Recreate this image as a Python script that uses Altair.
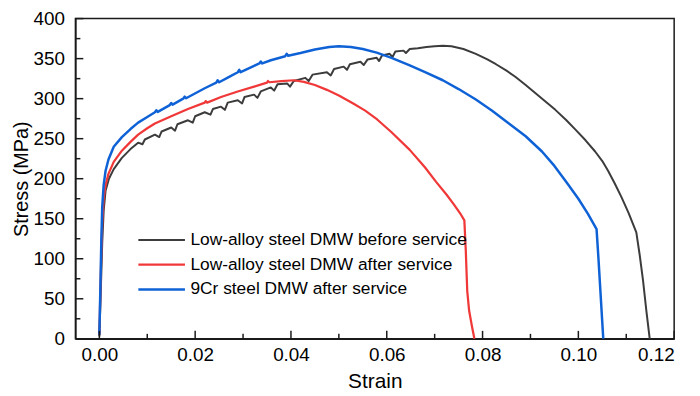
import altair as alt
import pandas as pd

series_names = [
    "Low-alloy steel DMW before service",
    "Low-alloy steel DMW after service",
    "9Cr steel DMW after service",
]
series_colors = ["#3c3c3c", "#f03838", "#0f62d6"]
series_widths = [2.0, 2.5, 2.5]

black_strain = [0.0000, 0.0003, 0.0006, 0.0009, 0.0013, 0.0020, 0.0030, 0.0047, 0.0065, 0.0081,
                0.0090, 0.0095, 0.0116, 0.0125, 0.0130, 0.0150, 0.0158, 0.0163, 0.0185, 0.0195,
                0.0200, 0.0220, 0.0232, 0.0237, 0.0254, 0.0262, 0.0268, 0.0289, 0.0298, 0.0303,
                0.0323, 0.0330, 0.0337, 0.0358, 0.0365, 0.0372, 0.0392, 0.0398, 0.0406, 0.0430,
                0.0437, 0.0445, 0.0475, 0.0483, 0.0490, 0.0510, 0.0517, 0.0523, 0.0545, 0.0552,
                0.0560, 0.0579, 0.0584, 0.0590, 0.0606, 0.0612, 0.0618, 0.0635, 0.0640, 0.0648,
                0.0665, 0.0683, 0.0700, 0.0717, 0.0735, 0.0760, 0.0786, 0.0810, 0.0828, 0.0850,
                0.0869, 0.0890, 0.0910, 0.0930, 0.0952, 0.0975, 0.0993, 0.1015, 0.1035, 0.1050,
                0.1062, 0.1076, 0.1090, 0.1105, 0.1121, 0.1128, 0.1135, 0.1142, 0.1149]
black_stress = [3, 60, 120, 160, 185, 200, 212, 226, 237, 245,
                243, 249, 255, 252, 259, 264, 260, 268, 273, 270,
                278, 283, 280, 287, 290, 286, 295, 298, 294, 302,
                305, 301, 309, 314, 310, 318, 319, 315, 322, 326,
                322, 330, 333, 329, 337, 340, 336, 343, 346, 342,
                349, 351, 347, 354, 356, 352, 359, 360, 357, 362,
                363, 364.5, 365.5, 366, 365.5, 362, 356, 349, 343, 335,
                327, 317, 307, 297, 286, 273, 262, 248, 234, 222,
                210, 194, 177, 157, 133, 105, 73, 35, 0]

red_strain = [0.0000, 0.0002, 0.0004, 0.0006, 0.0009, 0.0013, 0.0019, 0.0030, 0.0047, 0.0065,
              0.0081, 0.0100, 0.0116, 0.0150, 0.0185, 0.0220, 0.0222, 0.0225, 0.0254, 0.0289,
              0.0323, 0.0350, 0.0352, 0.0355, 0.0380, 0.0406, 0.0427, 0.0450, 0.0475, 0.0500,
              0.0530, 0.0555, 0.0580, 0.0610, 0.0648, 0.0680, 0.0703, 0.0725, 0.0740, 0.0755,
              0.0762, 0.0765, 0.0768, 0.0772, 0.0778, 0.0783]
red_stress = [5, 55, 105, 145, 175, 192, 206, 221, 235, 246,
              255, 263, 269, 278, 287, 295, 297, 295, 302, 309,
              315, 320, 322, 320.5, 322, 323, 321, 317, 311, 304,
              294, 285, 274, 258, 236, 214, 196, 180, 168, 155,
              148, 110, 60, 35, 15, 0]

blue_strain = [0.0000, 0.0002, 0.0004, 0.0006, 0.0009, 0.0013, 0.0019, 0.0030, 0.0047, 0.0065,
               0.0081, 0.0100, 0.0116, 0.0119, 0.0122, 0.0147, 0.0150, 0.0153, 0.0175, 0.0178,
               0.0181, 0.0220, 0.0244, 0.0247, 0.0250, 0.0270, 0.0289, 0.0292, 0.0295, 0.0323,
               0.0334, 0.0337, 0.0340, 0.0358, 0.0388, 0.0391, 0.0394, 0.0420, 0.0450, 0.0480,
               0.0500, 0.0525, 0.0550, 0.0579, 0.0610, 0.0648, 0.0680, 0.0717, 0.0750, 0.0786,
               0.0820, 0.0855, 0.0890, 0.0924, 0.0950, 0.0976, 0.1000, 0.1020, 0.1038, 0.1042,
               0.1046, 0.1050, 0.1052]
blue_stress = [5, 60, 120, 165, 192, 210, 224, 240, 252, 262,
               270, 277, 283, 285.5, 283.5, 292, 294.5, 292.5, 300, 302.5,
               300.5, 313, 320, 323, 320.5, 327, 333, 336, 333, 341,
               344, 346.5, 344, 348, 353, 356, 353.5, 357, 361.5, 364.5,
               365.5, 364.5, 362, 357.5, 351, 341.5, 333, 323, 312, 299,
               285, 269, 253, 234, 216, 195, 175, 156, 137, 100,
               60, 20, 0]

x_ticks = [0.00, 0.02, 0.04, 0.06, 0.08, 0.10, 0.12]
x_minor = [0.01, 0.03, 0.05, 0.07, 0.09, 0.11]
y_ticks = [0, 50, 100, 150, 200, 250, 300, 350, 400]
y_minor = [25, 75, 125, 175, 225, 275, 325, 375]

rows = []
for name, xs, ys in zip(series_names,
                        [black_strain, red_strain, blue_strain],
                        [black_stress, red_stress, blue_stress]):
    for i, (xv, yv) in enumerate(zip(xs, ys)):
        rows.append({"series": name, "strain": xv, "stress": yv, "idx": i})
df = pd.DataFrame(rows)

W, H = 604, 323
FONT = "Liberation Sans"
xscale = alt.Scale(domain=[-0.005, 0.12], nice=False, zero=False)
yscale = alt.Scale(domain=[0, 400], nice=False)

x_axis = alt.Axis(values=x_ticks, format=".2f", title="Strain", ticks=False,
                  grid=False, labelPadding=7, titleY=43, titleFontSize=21,
                  titleBaseline="middle")
y_axis = alt.Axis(values=y_ticks, title="Stress (MPa)", ticks=False, grid=False,
                  labelPadding=11, titleX=-54, titleY=H / 2, titleFontSize=20,
                  titleBaseline="middle", titleAngle=-90, titleAlign="center")

lines = alt.Chart(df).mark_line(strokeJoin="round").encode(
    x=alt.X("strain:Q", scale=xscale, axis=x_axis),
    y=alt.Y("stress:Q", scale=yscale, axis=y_axis),
    color=alt.Color("series:N", sort=series_names,
                    scale=alt.Scale(domain=series_names, range=series_colors),
                    legend=alt.Legend(orient="none", legendX=62, legendY=211, title=None,
                                      symbolType="stroke", symbolSize=2209,
                                      symbolStrokeWidth=2.5, labelFontSize=17.5,
                                      labelFont=FONT, labelColor="black", labelOffset=4,
                                      clipHeight=24.5, rowPadding=0, padding=0,
                                      labelLimit=600)),
    strokeWidth=alt.StrokeWidth("series:N",
                                scale=alt.Scale(domain=series_names, range=series_widths),
                                legend=None),
    detail="series:N",
    order="idx:Q",
)

xt = pd.DataFrame({"strain": x_ticks})
xm = pd.DataFrame({"strain": x_minor})
yt = pd.DataFrame({"stress": y_ticks})
ym = pd.DataFrame({"stress": y_minor})

tick_color = "#1a1a1a"
xmaj = alt.Chart(xt).mark_rule(color=tick_color, strokeWidth=1.5).encode(
    x=alt.X("strain:Q", scale=xscale, axis=x_axis), y=alt.value(H), y2=alt.value(H - 8))
xmin = alt.Chart(xm).mark_rule(color=tick_color, strokeWidth=1.5).encode(
    x=alt.X("strain:Q", scale=xscale, axis=x_axis), y=alt.value(H), y2=alt.value(H - 5))
ymaj = alt.Chart(yt).mark_rule(color=tick_color, strokeWidth=1.5).encode(
    y=alt.Y("stress:Q", scale=yscale, axis=y_axis), x=alt.value(0), x2=alt.value(8))
ymin = alt.Chart(ym).mark_rule(color=tick_color, strokeWidth=1.5).encode(
    y=alt.Y("stress:Q", scale=yscale, axis=y_axis), x=alt.value(0), x2=alt.value(5))

chart = alt.layer(lines, xmaj, xmin, ymaj, ymin).properties(
    width=W, height=H,
    autosize=alt.AutoSizeParams(type="none"),
    padding={"left": 68, "top": 9, "right": 18, "bottom": 56},
).configure_view(
    stroke=tick_color, strokeWidth=1.5
).configure_axis(
    domainColor=tick_color, domainWidth=1.5,
    labelFont=FONT, labelFontSize=19, labelColor="black",
    titleFont=FONT, titleFontSize=22, titleColor="black", titleFontWeight="normal",
)

chart.save("out.html", embed_options={"renderer": "svg", "actions": False})
